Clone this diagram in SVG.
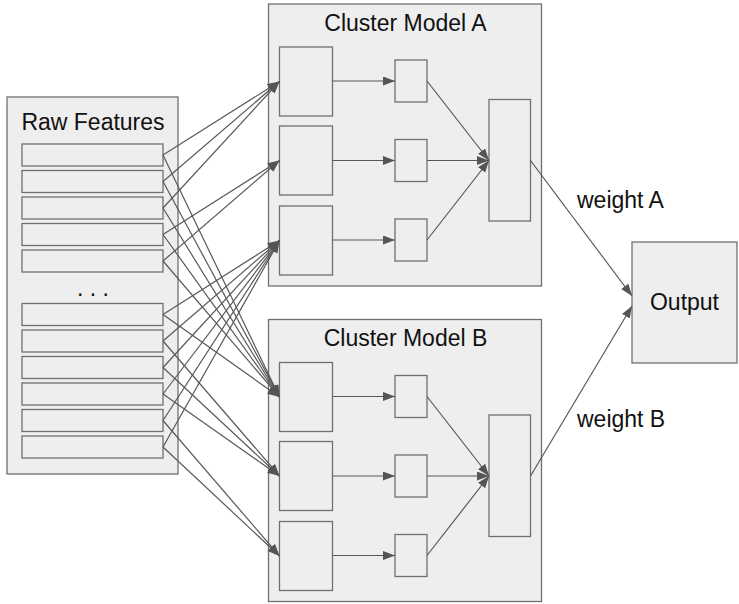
<svg xmlns="http://www.w3.org/2000/svg" width="739" height="604" viewBox="0 0 739 604">
<defs>
<marker id="ah" markerUnits="userSpaceOnUse" markerWidth="13" markerHeight="10" refX="12" refY="4.5" orient="auto">
<path d="M0,0 L12,4.5 L0,9 z" fill="#555555"/>
</marker>
<style>
rect{fill:#eeeeee;stroke:#707070;stroke-width:1.3}
text{font-family:"Liberation Sans",Arial,sans-serif;font-size:23px;fill:#111}
.c line{stroke:#585858;stroke-width:1.2;marker-end:url(#ah)}
</style>
</defs>
<rect x="0" y="0" width="739" height="604" style="fill:#fff;stroke:none"/>
<g id="raw-features">
<rect x="7" y="97" width="171" height="377"/>
<text x="93" y="129.5" text-anchor="middle">Raw Features</text>
<rect x="22" y="144" width="141" height="22"/>
<rect x="22" y="170.5" width="141" height="22"/>
<rect x="22" y="197" width="141" height="22"/>
<rect x="22" y="223.5" width="141" height="22"/>
<rect x="22" y="250" width="141" height="22"/>
<text x="93" y="296" text-anchor="middle">. . .</text>
<rect x="22" y="303.5" width="141" height="22"/>
<rect x="22" y="330" width="141" height="22"/>
<rect x="22" y="356.5" width="141" height="22"/>
<rect x="22" y="383" width="141" height="22"/>
<rect x="22" y="409.5" width="141" height="22"/>
<rect x="22" y="436" width="141" height="22"/>
</g>
<g id="cluster-a">
<rect x="268.5" y="4" width="273" height="282"/>
<text x="405.5" y="30.5" text-anchor="middle">Cluster Model A</text>
<rect x="279.5" y="47" width="53" height="69"/>
<rect x="279.5" y="126" width="53" height="69"/>
<rect x="279.5" y="206" width="53" height="69"/>
<rect x="395" y="60" width="32" height="42"/>
<rect x="395" y="139.5" width="32" height="42"/>
<rect x="395" y="219" width="32" height="42"/>
<rect x="489" y="99.5" width="41.5" height="121.5"/>
</g>
<g id="cluster-b">
<rect x="268.5" y="319.5" width="273" height="282"/>
<text x="405.5" y="346" text-anchor="middle">Cluster Model B</text>
<rect x="279.5" y="362.5" width="53" height="69"/>
<rect x="279.5" y="441.5" width="53" height="69"/>
<rect x="279.5" y="521.5" width="53" height="69"/>
<rect x="395" y="375.5" width="32" height="42"/>
<rect x="395" y="455" width="32" height="42"/>
<rect x="395" y="534.5" width="32" height="42"/>
<rect x="489" y="415" width="41.5" height="121.5"/>
</g>
<g id="output">
<rect x="632" y="242" width="105" height="121"/>
<text x="684.5" y="310" text-anchor="middle">Output</text>
</g>
<g id="labels">
<text x="577" y="208">weight A</text>
<text x="577" y="427">weight B</text>
</g>
<g id="connectors" class="c">
<line x1="163" y1="155" x2="279.5" y2="81.5"/>
<line x1="163" y1="181.5" x2="279.5" y2="81.5"/>
<line x1="163" y1="208" x2="279.5" y2="81.5"/>
<line x1="163" y1="234.5" x2="279.5" y2="160.5"/>
<line x1="163" y1="261" x2="279.5" y2="160.5"/>
<line x1="163" y1="314.5" x2="279.5" y2="240.5"/>
<line x1="163" y1="341" x2="279.5" y2="240.5"/>
<line x1="163" y1="367.5" x2="279.5" y2="240.5"/>
<line x1="163" y1="394" x2="279.5" y2="240.5"/>
<line x1="163" y1="420.5" x2="279.5" y2="240.5"/>
<line x1="163" y1="447" x2="279.5" y2="240.5"/>
<line x1="163" y1="155" x2="279.5" y2="397"/>
<line x1="163" y1="181.5" x2="279.5" y2="397"/>
<line x1="163" y1="208" x2="279.5" y2="397"/>
<line x1="163" y1="234.5" x2="279.5" y2="397"/>
<line x1="163" y1="261" x2="279.5" y2="397"/>
<line x1="163" y1="314.5" x2="279.5" y2="397"/>
<line x1="163" y1="341" x2="279.5" y2="476"/>
<line x1="163" y1="367.5" x2="279.5" y2="476"/>
<line x1="163" y1="394" x2="279.5" y2="476"/>
<line x1="163" y1="420.5" x2="279.5" y2="556"/>
<line x1="163" y1="447" x2="279.5" y2="556"/>
<line x1="332.5" y1="81" x2="395" y2="81"/>
<line x1="332.5" y1="160.5" x2="395" y2="160.5"/>
<line x1="332.5" y1="240" x2="395" y2="240"/>
<line x1="427" y1="81" x2="489" y2="160.5"/>
<line x1="427" y1="160.5" x2="489" y2="160.5"/>
<line x1="427" y1="240" x2="489" y2="160.5"/>
<line x1="332.5" y1="396.5" x2="395" y2="396.5"/>
<line x1="332.5" y1="476" x2="395" y2="476"/>
<line x1="332.5" y1="555.5" x2="395" y2="555.5"/>
<line x1="427" y1="396.5" x2="489" y2="476"/>
<line x1="427" y1="476" x2="489" y2="476"/>
<line x1="427" y1="555.5" x2="489" y2="476"/>
<line x1="530.5" y1="160.5" x2="632" y2="296"/>
<line x1="530.5" y1="476" x2="632" y2="306"/>
</g>
</svg>
